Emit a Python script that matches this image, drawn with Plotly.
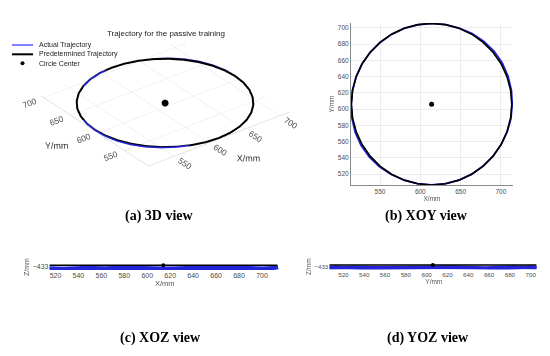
import plotly.graph_objects as go

# ---------------- data ----------------
# Predetermined circular trajectory (mm), sampled every 10 degrees
pred_x = [713.5, 712.0, 707.5, 700.2, 690.2, 678.0, 663.8, 648.0, 631.3, 614.0,
          596.7, 580.0, 564.3, 550.0, 537.8, 527.8, 520.5, 516.0, 514.5, 516.0,
          520.5, 527.8, 537.8, 550.0, 564.3, 580.0, 596.7, 614.0, 631.3, 648.0,
          663.8, 678.0, 690.2, 700.2, 707.5, 712.0, 713.5]
pred_y = [606.0, 623.3, 640.0, 655.8, 670.0, 682.2, 692.2, 699.5, 704.0, 705.5,
          704.0, 699.5, 692.2, 682.2, 670.0, 655.8, 640.0, 623.3, 606.0, 588.7,
          572.0, 556.3, 542.0, 529.8, 519.8, 512.5, 508.0, 506.5, 508.0, 512.5,
          519.8, 529.8, 542.0, 556.3, 572.0, 588.7, 606.0]
pred_z = [-432.93] * len(pred_x)

# Actual (measured) trajectory (mm)
act_x = [714.0, 713.0, 708.9, 701.7, 691.6, 678.9, 664.3, 648.1, 631.3, 614.0,
         596.8, 580.0, 564.4, 550.2, 537.9, 527.8, 520.4, 515.8, 514.2, 515.2,
         519.2, 526.4, 536.6, 549.4, 564.0, 580.0, 596.7, 614.0, 631.3, 648.0,
         663.7, 678.0, 690.3, 700.3, 707.8, 712.5, 714.0]
act_y = [606.0, 623.4, 640.5, 656.7, 671.1, 683.4, 693.0, 699.8, 704.0, 705.5,
         703.8, 699.3, 692.0, 682.1, 669.9, 655.8, 640.1, 623.3, 606.0, 588.6,
         571.5, 555.4, 541.1, 529.0, 519.4, 512.5, 508.1, 506.6, 508.1, 512.6,
         519.9, 529.8, 542.0, 556.2, 571.9, 588.6, 606.0]
act_z = [-433.03, -433.05, -433.08, -433.07, -433.04, -433.02, -433.05, -433.07,
         -433.09, -433.06, -433.03, -433.02, -433.05, -433.08, -433.10, -433.07,
         -433.04, -433.02, -433.05, -433.07, -433.09, -433.08, -433.05, -433.03,
         -433.06, -433.08, -433.09, -433.07, -433.04, -433.02, -433.05, -433.07,
         -433.09, -433.06, -433.04, -433.03, -433.03]

center_x = [614.0]
center_y = [606.0]
center_z = [-432.93]

xy_ticks = [550, 600, 650, 700]
b_yticks = [520, 540, 560, 580, 600, 620, 640, 660, 680, 700]
cd_ticks = [520, 540, 560, 580, 600, 620, 640, 660, 680, 700]
z_ticks = [-433]

legend_names = ["Actual Trajectory", "Predetermined Trajectory", "Circle Center"]
captions = ["(a) 3D view", "(b) XOY view", "(c) XOZ view", "(d) YOZ view"]
title_3d = "Trajectory for the passive training"

# ---------------- styling ----------------
W, H = 550, 356
BLUE = "#2323d8"
BLACK = "#000000"
TICKC = "#4d4d4d"
GRID = "#e3e3e3"


def px(x):
    return x / W


def py(y):
    return 1 - y / H


fig = go.Figure()

# ---- (a) 3D view ----
fig.add_trace(go.Scatter3d(x=act_x, y=act_y, z=act_z, mode="lines",
                           line=dict(color=BLUE, width=3), scene="scene",
                           showlegend=False, hoverinfo="skip"))
fig.add_trace(go.Scatter3d(x=pred_x, y=pred_y, z=pred_z, mode="lines",
                           line=dict(color=BLACK, width=4), scene="scene",
                           showlegend=False, hoverinfo="skip"))
fig.add_trace(go.Scatter3d(x=center_x, y=center_y, z=center_z, mode="markers",
                           marker=dict(color=BLACK, size=4), scene="scene",
                           showlegend=False, hoverinfo="skip"))

# ---- (b) XOY view ----
fig.add_trace(go.Scatter(x=act_x, y=act_y, mode="lines", line=dict(color=BLUE, width=1.8),
                         xaxis="x2", yaxis="y2", showlegend=False, hoverinfo="skip"))
fig.add_trace(go.Scatter(x=pred_x, y=pred_y, mode="lines", line=dict(color=BLACK, width=1.6),
                         xaxis="x2", yaxis="y2", showlegend=False, hoverinfo="skip"))
fig.add_trace(go.Scatter(x=center_x, y=center_y, mode="markers", marker=dict(color=BLACK, size=5),
                         xaxis="x2", yaxis="y2", showlegend=False, hoverinfo="skip"))

# ---- (c) XOZ view ----
fig.add_trace(go.Scatter(x=act_x, y=act_z, mode="lines", line=dict(color=BLUE, width=3.5),
                         xaxis="x3", yaxis="y3", showlegend=False, hoverinfo="skip"))
fig.add_trace(go.Scatter(x=pred_x, y=pred_z, mode="lines", line=dict(color=BLACK, width=1.5),
                         xaxis="x3", yaxis="y3", showlegend=False, hoverinfo="skip"))
fig.add_trace(go.Scatter(x=center_x, y=center_z, mode="markers", marker=dict(color=BLACK, size=4),
                         cliponaxis=False, xaxis="x3", yaxis="y3", showlegend=False, hoverinfo="skip"))

# ---- (d) YOZ view ----
fig.add_trace(go.Scatter(x=act_y, y=act_z, mode="lines", line=dict(color=BLUE, width=3.5),
                         xaxis="x4", yaxis="y4", showlegend=False, hoverinfo="skip"))
fig.add_trace(go.Scatter(x=pred_y, y=pred_z, mode="lines", line=dict(color=BLACK, width=1.5),
                         xaxis="x4", yaxis="y4", showlegend=False, hoverinfo="skip"))
fig.add_trace(go.Scatter(x=center_y, y=center_z, mode="markers", marker=dict(color=BLACK, size=4),
                         cliponaxis=False, xaxis="x4", yaxis="y4", showlegend=False, hoverinfo="skip"))

s = 3.0
zoom3d = 1.87
axis3d = dict(showbackground=False, gridcolor=GRID, gridwidth=1, zeroline=False,
              showspikes=False, showline=True, linecolor="#c8c8c8", linewidth=1,
              tickfont=dict(size=10, color=TICKC, family="Liberation Sans"),
              ticks="", tickvals=xy_ticks)

fig.update_layout(
    width=W, height=H, margin=dict(l=0, r=0, t=0, b=0),
    paper_bgcolor="white", plot_bgcolor="white",
    font=dict(family="Liberation Sans", color="#333"),
    scene=dict(
        domain=dict(x=[0.0, 0.6], y=[py(198), py(8)]),
        xaxis=dict(axis3d, range=[514, 714],
                   title=dict(text="X/mm", font=dict(size=9, color="#333"))),
        yaxis=dict(axis3d, range=[506, 706],
                   title=dict(text="Y/mm", font=dict(size=9, color="#333"))),
        zaxis=dict(visible=False, range=[-434, -432]),
        aspectmode="manual", aspectratio=dict(x=zoom3d, y=zoom3d, z=0.01 * zoom3d),
        camera=dict(projection=dict(type="orthographic"),
                    eye=dict(x=-0.527 * s, y=-0.687 * s, z=0.5 * s),
                    center=dict(x=0, y=0, z=0), up=dict(x=0, y=0, z=1)),
        bgcolor="rgba(0,0,0,0)",
    ),
    xaxis2=dict(domain=[px(351), px(513)], range=[514, 715], anchor="y2",
                tickvals=xy_ticks, showgrid=True, gridcolor="#ececec", zeroline=False,
                showline=True, linecolor="#8c8c8c", linewidth=1, ticks="", mirror=False,
                tickfont=dict(size=6.5, color=TICKC),
                title=dict(text="X/mm", font=dict(size=6.5, color="#555"), standoff=1)),
    yaxis2=dict(domain=[py(185), py(23)], range=[506.5, 706], anchor="x2",
                tickvals=b_yticks, showgrid=True, gridcolor="#ececec", zeroline=False,
                showline=True, linecolor="#8c8c8c", linewidth=1, ticks="",
                tickfont=dict(size=6.5, color=TICKC),
                title=dict(text="Y/mm", font=dict(size=6.5, color="#555"), standoff=2)),
    xaxis3=dict(domain=[px(49.5), px(280)], range=[514.8, 715.7], anchor="y3",
                tickvals=cd_ticks, showgrid=False, zeroline=False, showline=False, ticks="",
                tickfont=dict(size=7, color=TICKC),
                title=dict(text="X/mm", font=dict(size=7.5, color="#555"), standoff=2)),
    yaxis3=dict(domain=[py(270), py(264)], range=[-433.14, -432.88], anchor="x3",
                tickvals=z_ticks, showgrid=False, zeroline=False, showline=False, ticks="",
                tickfont=dict(size=7, color=TICKC),
                title=dict(text="Z/mm", font=dict(size=7, color="#555"), standoff=2)),
    xaxis4=dict(domain=[px(329.3), px(538.3)], range=[506.5, 707.3], anchor="y4",
                tickvals=cd_ticks, showgrid=False, zeroline=False, showline=False, ticks="",
                tickfont=dict(size=6.2, color=TICKC),
                title=dict(text="Y/mm", font=dict(size=6.5, color="#555"), standoff=2)),
    yaxis4=dict(domain=[py(269.5), py(264)], range=[-433.14, -432.88], anchor="x4",
                tickvals=z_ticks, showgrid=False, zeroline=False, showline=False, ticks="",
                tickfont=dict(size=6.2, color=TICKC),
                title=dict(text="Z/mm", font=dict(size=6.5, color="#555"), standoff=2)),
    showlegend=False,
)

# ---- manual compact legend for panel (a) ----
leg_y = [45, 54.3, 63.3]
fig.add_shape(type="line", xref="paper", yref="paper", x0=px(12), x1=px(33),
              y0=py(leg_y[0]), y1=py(leg_y[0]), line=dict(color="#3a3aff", width=1.3))
fig.add_shape(type="line", xref="paper", yref="paper", x0=px(12), x1=px(33),
              y0=py(leg_y[1]), y1=py(leg_y[1]), line=dict(color=BLACK, width=2))
fig.add_shape(type="circle", xref="paper", yref="paper", x0=px(20.5), x1=px(24.5),
              y0=py(leg_y[2] + 2), y1=py(leg_y[2] - 2), fillcolor=BLACK, line=dict(width=0))
for name, yy in zip(legend_names, leg_y):
    fig.add_annotation(x=px(37), y=py(yy), xref="paper", yref="paper", text=name,
                       showarrow=False, xanchor="left", yanchor="middle",
                       font=dict(size=7, color="#222", family="Liberation Sans"))

# title of the 3D panel
fig.add_annotation(x=px(166), y=py(33), xref="paper", yref="paper", text=title_3d,
                   showarrow=False, xanchor="center", yanchor="middle",
                   font=dict(size=8, color="#222", family="Liberation Sans"))

# captions
cap_pos = [(159, 216), (426, 216), (160, 338), (428, 338)]
for cap, (cx, cy) in zip(captions, cap_pos):
    fig.add_annotation(x=px(cx), y=py(cy), xref="paper", yref="paper", text="<b>" + cap + "</b>",
                       showarrow=False, xanchor="center", yanchor="middle",
                       font=dict(size=14, color="#000", family="Liberation Serif"))

fig.write_html("out.html", config={"displayModeBar": False},
               post_script="document.body.style.margin='0';document.body.style.padding='0';")
